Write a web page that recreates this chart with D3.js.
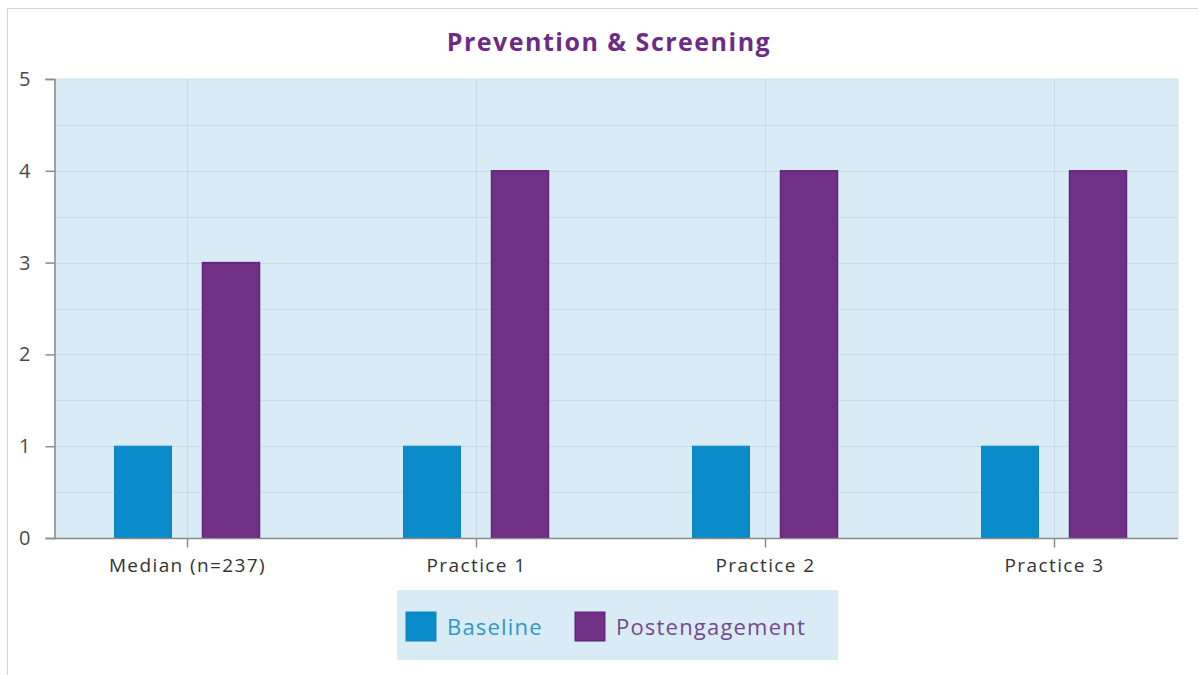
<!DOCTYPE html>
<html>
<head>
<meta charset="utf-8">
<script src="https://cdn.jsdelivr.net/npm/d3@7"></script>
<style>
  body { margin: 0; background: #fff; font-family: "Open Sans", Lato, sans-serif; }
</style>
</head>
<body>
<div id="chart"></div>
<script>
// data
var categories = ["Median (n=237)", "Practice 1", "Practice 2", "Practice 3"];
var baseline = [1, 1, 1, 1];
var postengagement = [3, 4, 4, 4];
var seriesNames = ["Baseline", "Postengagement"];
var yTicks = [0, 1, 2, 3, 4, 5];

var width = 1198, height = 675;
var plot = { left: 55, right: 1178, top: 79, bottom: 538 };
var colors = ["#0a8ccb", "#6f3085"];
var textColors = ["#2b97d0", "#744890"];
var font = "'Open Sans', sans-serif";

var svg = d3.select("#chart").append("svg")
  .attr("width", width)
  .attr("height", height);

// outer frame
svg.append("rect")
  .attr("x", 7.5).attr("y", 8.5)
  .attr("width", width).attr("height", height)
  .attr("fill", "none")
  .attr("stroke", "#d4d4d4");

var y = d3.scaleLinear().domain([0, 5]).range([plot.bottom, plot.top]);
var x = d3.scalePoint().domain(categories).range([187, 1054]);

var barW = 57, gap = 31;

// plot background
svg.append("rect")
  .attr("x", plot.left).attr("y", plot.top)
  .attr("width", plot.right - plot.left).attr("height", plot.bottom - plot.top)
  .attr("fill", "#d9ecf5")
  .attr("stroke", "#cfe2ec");

// horizontal grid every 0.5
svg.append("g").selectAll("line")
  .data(d3.range(0.5, 5, 0.5))
  .enter().append("line")
  .attr("x1", plot.left).attr("x2", plot.right)
  .attr("y1", function(d) { return Math.round(y(d)) + 0.5; })
  .attr("y2", function(d) { return Math.round(y(d)) + 0.5; })
  .attr("stroke", "#c6dce7");

// vertical grid at categories
svg.append("g").selectAll("line")
  .data(categories)
  .enter().append("line")
  .attr("x1", function(d) { return Math.round(x(d)) + 0.5; })
  .attr("x2", function(d) { return Math.round(x(d)) + 0.5; })
  .attr("y1", plot.top).attr("y2", plot.bottom)
  .attr("stroke", "#c6dce7");

// bars
var groups = svg.append("g").selectAll("g")
  .data(categories)
  .enter().append("g");

groups.append("rect")
  .attr("x", function(d) { return x(d) - gap / 2 - barW; })
  .attr("y", function(d, i) { return y(baseline[i]); })
  .attr("width", barW)
  .attr("height", function(d, i) { return plot.bottom - y(baseline[i]); })
  .attr("fill", colors[0])
  .attr("stroke", "#0a84c0")
  .attr("stroke-width", 1);

groups.append("rect")
  .attr("x", function(d) { return x(d) + gap / 2; })
  .attr("y", function(d, i) { return y(postengagement[i]); })
  .attr("width", barW)
  .attr("height", function(d, i) { return plot.bottom - y(postengagement[i]); })
  .attr("fill", colors[1])
  .attr("stroke", "#66247d")
  .attr("stroke-width", 1.5);

// y axis
var yAxis = svg.append("g")
  .attr("transform", "translate(" + (plot.left - 0.5) + ",0)")
  .call(d3.axisLeft(y).tickValues(yTicks).tickSize(9).tickPadding(15).tickFormat(d3.format("d")));
yAxis.select(".domain").attr("stroke", "#8a8a8a").attr("stroke-width", 1.5);
yAxis.selectAll(".tick line").attr("stroke", "#8a8a8a").attr("stroke-width", 1.5);
yAxis.selectAll("text")
  .attr("fill", "#4a4a4a")
  .style("font-size", "20px")
  .style("font-family", font);

// x axis
var xAxis = svg.append("g")
  .attr("transform", "translate(0," + (plot.bottom + 0.5) + ")")
  .call(d3.axisBottom(x).tickSize(9).tickPadding(11).tickSizeOuter(0));
xAxis.select(".domain")
  .attr("d", "M" + plot.left + ",0H" + plot.right)
  .attr("stroke", "#8a8a8a").attr("stroke-width", 1.5);
xAxis.selectAll(".tick line").attr("stroke", "#8a8a8a").attr("stroke-width", 1.5);
xAxis.selectAll("text")
  .attr("fill", "#333")
  .style("font-size", "19px")
  .style("letter-spacing", "1.4px")
  .style("font-family", font);

// title
svg.append("text")
  .attr("x", 609).attr("y", 51)
  .attr("text-anchor", "middle")
  .attr("fill", "#6c2c86")
  .style("font-size", "25px")
  .style("font-weight", "bold")
  .style("letter-spacing", "1.5px")
  .style("font-family", font)
  .text("Prevention & Screening");

// legend
var legend = svg.append("g");
legend.append("rect")
  .attr("x", 397).attr("y", 590)
  .attr("width", 441).attr("height", 70)
  .attr("fill", "#d9ecf5");

var legendX = [406, 575];
var items = legend.selectAll("g.item")
  .data(seriesNames)
  .enter().append("g")
  .attr("class", "item")
  .attr("transform", function(d, i) { return "translate(" + legendX[i] + ",612)"; });

items.append("rect")
  .attr("width", 30).attr("height", 29)
  .attr("fill", function(d, i) { return colors[i]; })
  .attr("stroke", function(d, i) { return i ? "#5e1f74" : "#0a84c0"; });

items.append("text")
  .attr("x", 41).attr("y", 23)
  .attr("fill", function(d, i) { return textColors[i]; })
  .style("font-size", "22px")
  .style("letter-spacing", "1.2px")
  .style("font-family", font)
  .text(function(d) { return d; });
</script>
</body>
</html>
